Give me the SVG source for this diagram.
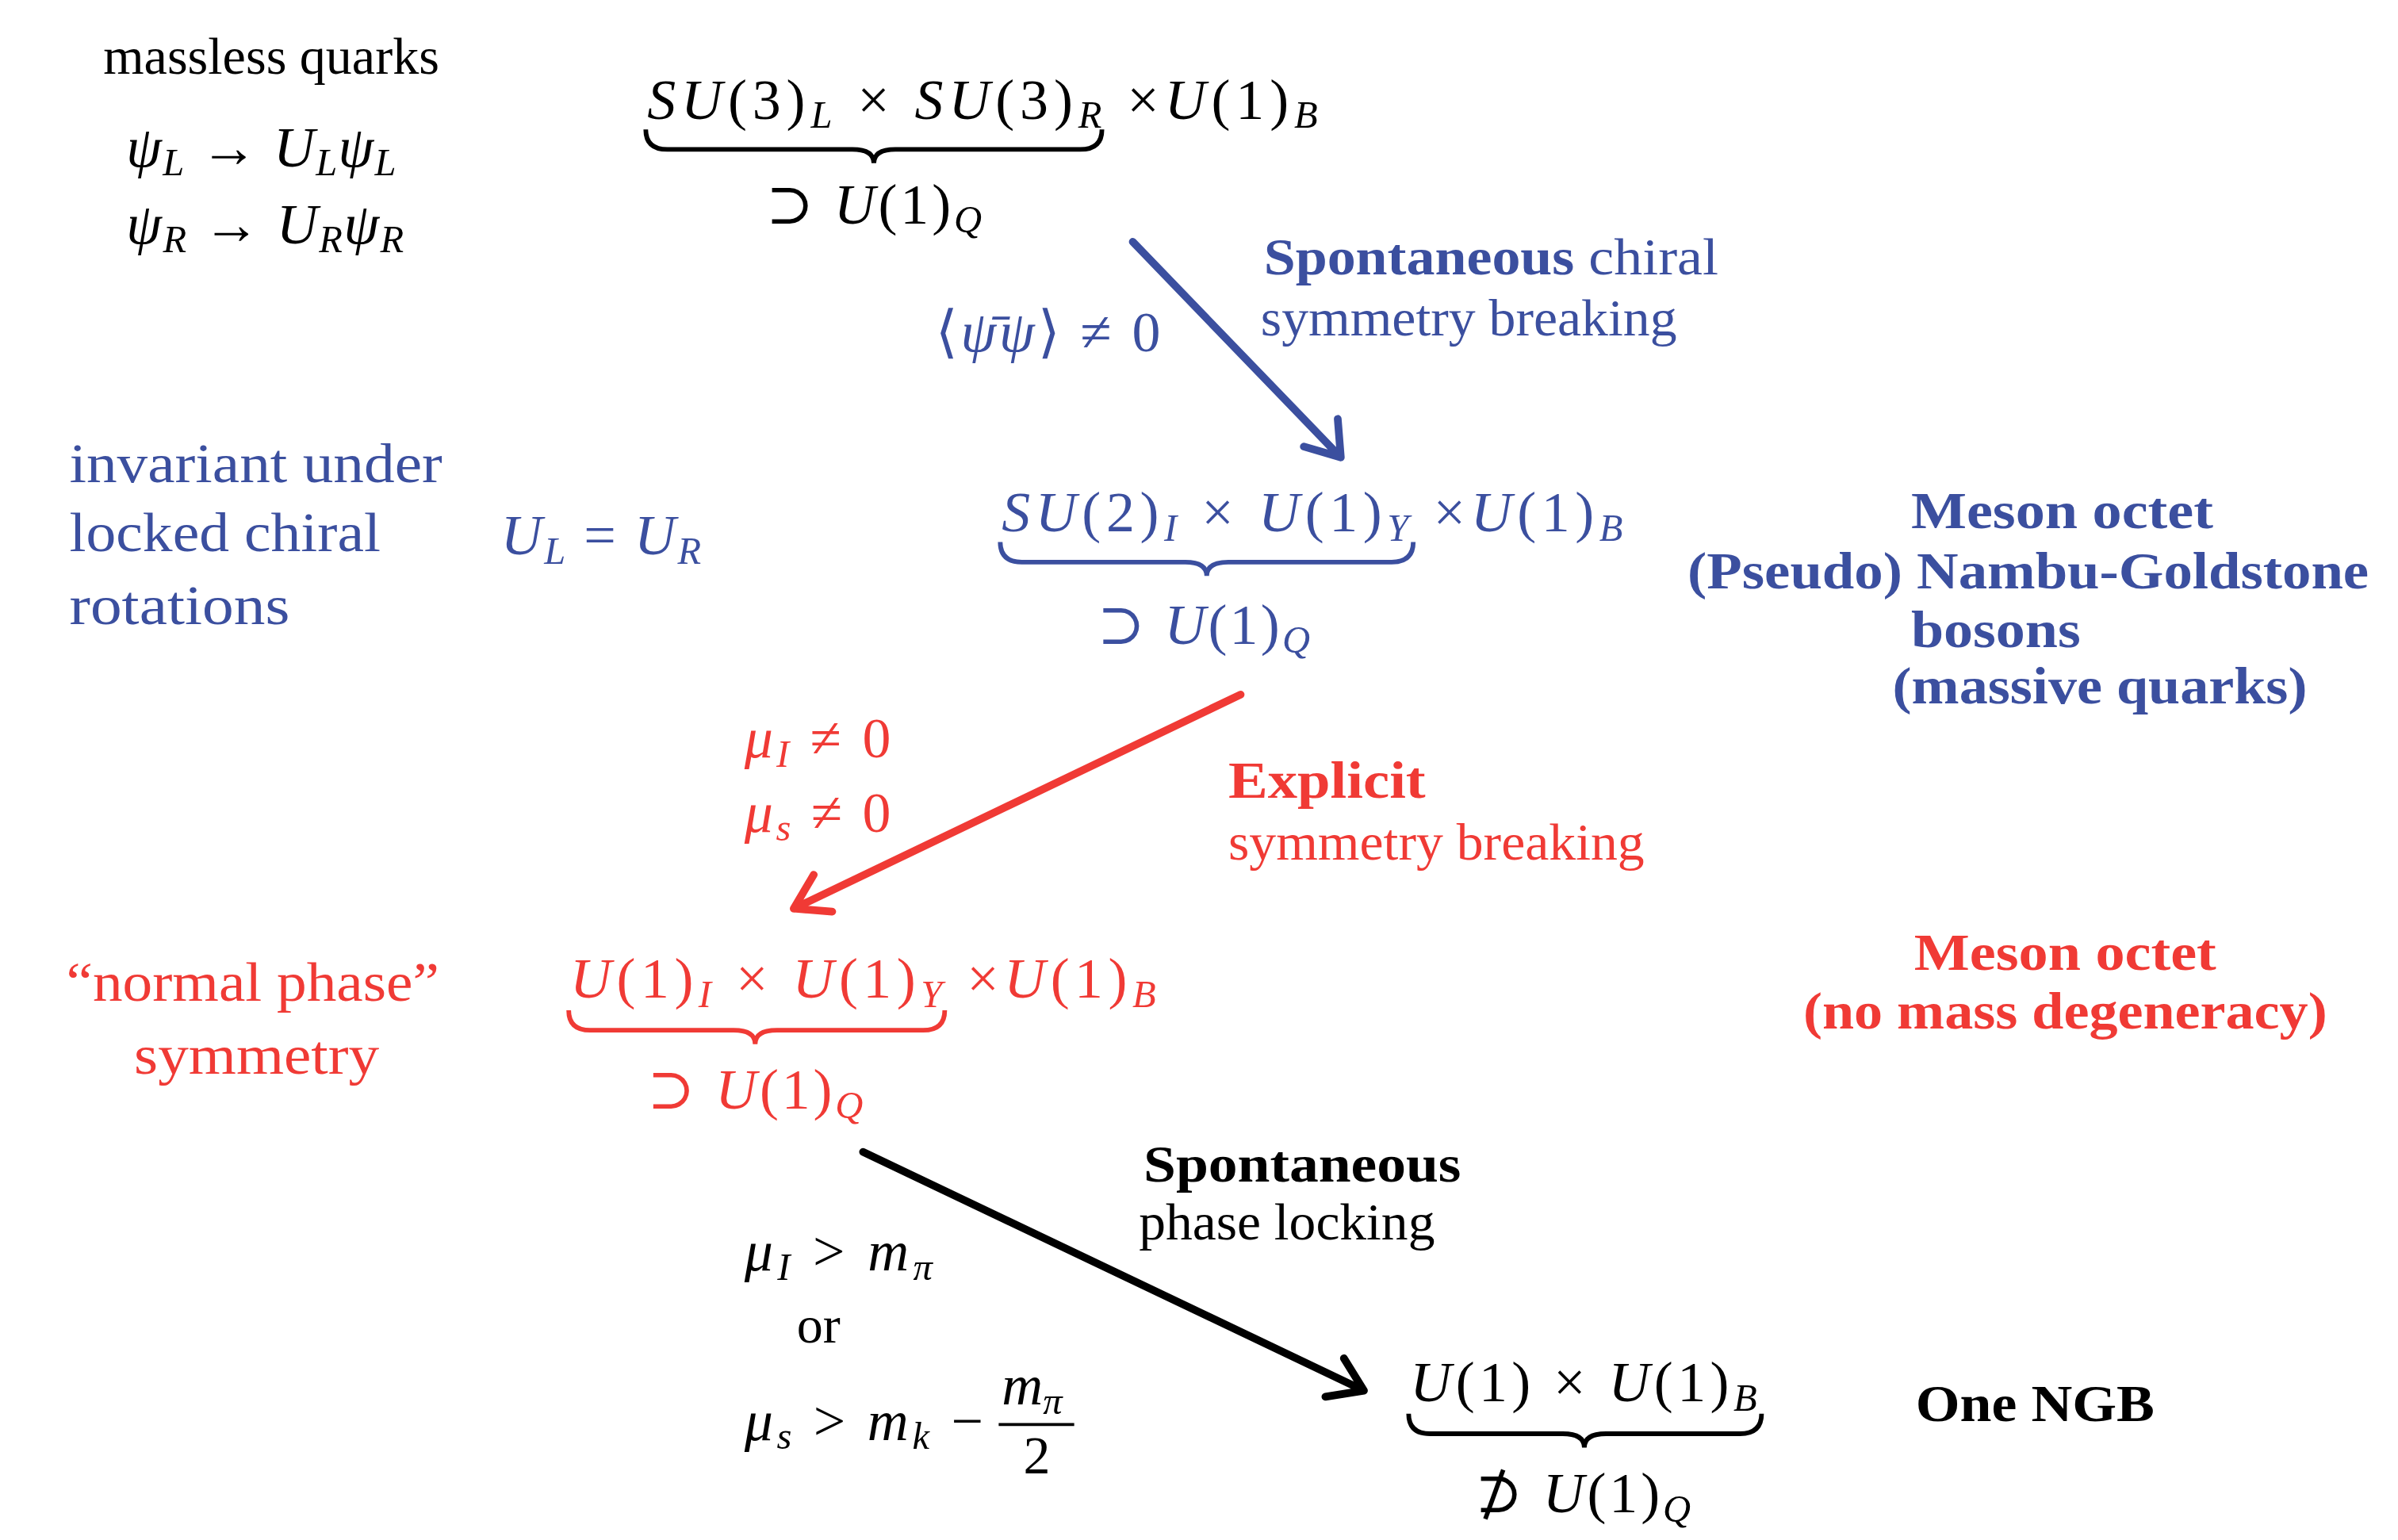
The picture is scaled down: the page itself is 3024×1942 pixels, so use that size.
<svg xmlns="http://www.w3.org/2000/svg" width="3024" height="1942" viewBox="0 0 3024 1942">
<style>
text{font-family:"Liberation Serif","DejaVu Serif",serif;font-size:34px}
.m{font-style:italic;font-size:37px}
.u{font-style:normal}
.s{font-size:25px}
.b{font-weight:bold}
.blue{fill:#3b4f9f}.red{fill:#f03a35}.blk{fill:#000}
.br{fill:none;stroke-width:3}
.ar{fill:none;stroke-width:5;stroke-linecap:round;stroke-linejoin:round}
</style>
<rect width="3024" height="1942" fill="#fff"/>
<g transform="scale(1.9435,1.942)">
<g id="quarks">
<text x="67" y="48" textLength="218" lengthAdjust="spacingAndGlyphs">massless quarks</text>
<text class="m" x="82" y="108" textLength="175">ψ<tspan class="s" dy="6">L</tspan><tspan class="u" dy="-6"> → </tspan>U<tspan class="s" dy="6">L</tspan><tspan dy="-6">ψ</tspan><tspan class="s" dy="6">L</tspan></text>
<text class="m" x="82" y="158" textLength="180">ψ<tspan class="s" dy="6">R</tspan><tspan class="u" dy="-6"> → </tspan>U<tspan class="s" dy="6">R</tspan><tspan dy="-6">ψ</tspan><tspan class="s" dy="6">R</tspan></text>
</g>
<g id="g1">
<text class="m" x="420" y="77" textLength="435">SU<tspan class="u">(3)</tspan><tspan class="s" dy="6">L</tspan><tspan class="u" dy="-6"> × </tspan>SU<tspan class="u">(3)</tspan><tspan class="s" dy="6">R</tspan><tspan class="u" dy="-6"> ×</tspan>U<tspan class="u">(1)</tspan><tspan class="s" dy="6">B</tspan></text>
<path class="br" stroke="#000" d="M419,84 q0,13 14,13 h120 q14,0 14,9 q0,-9 14,-9 h120 q14,0 14,-13"/>
<text class="m" x="497" y="145" textLength="140"><tspan class="u">⊃ </tspan>U<tspan class="u">(1)</tspan><tspan class="s" dy="6">Q</tspan></text>
</g>
<g id="inv">
<text class="blue" style="font-size:36px" x="45" y="313" textLength="242" lengthAdjust="spacingAndGlyphs">invariant under</text>
<text class="blue" style="font-size:36px" x="45" y="358" textLength="202" lengthAdjust="spacingAndGlyphs">locked chiral</text>
<text class="blue" style="font-size:36px" x="45" y="405" textLength="143" lengthAdjust="spacingAndGlyphs">rotations</text>
<text class="m blue" x="325" y="360" textLength="130">U<tspan class="s" dy="6">L</tspan><tspan class="u" dy="-6"> = </tspan>U<tspan class="s" dy="6">R</tspan></text>
</g>
<g id="g2">
<text class="m blue" x="650" y="345" textLength="403">SU<tspan class="u">(2)</tspan><tspan class="s" dy="6">I</tspan><tspan class="u" dy="-6"> × </tspan>U<tspan class="u">(1)</tspan><tspan class="s" dy="6">Y</tspan><tspan class="u" dy="-6"> ×</tspan>U<tspan class="u">(1)</tspan><tspan class="s" dy="6">B</tspan></text>
<path class="br" stroke="#3b4f9f" d="M649,352 q0,13 14,13 h106 q14,0 14,9 q0,-9 14,-9 h106 q14,0 14,-13"/>
<text class="m blue" x="712" y="418" textLength="138"><tspan class="u">⊃ </tspan>U<tspan class="u">(1)</tspan><tspan class="s" dy="6">Q</tspan></text>
</g>
<g id="meson1">
<text class="b blue" x="1240" y="343" textLength="196" lengthAdjust="spacingAndGlyphs">Meson octet</text>
<text class="b blue" x="1095" y="382" textLength="442" lengthAdjust="spacingAndGlyphs">(Pseudo) Nambu-Goldstone</text>
<text class="b blue" x="1240" y="420" textLength="110" lengthAdjust="spacingAndGlyphs">bosons</text>
<text class="b blue" x="1228" y="457" textLength="269" lengthAdjust="spacingAndGlyphs">(massive quarks)</text>
</g>
<g id="normal">
<text class="red" style="font-size:36px" x="43" y="650" textLength="242" lengthAdjust="spacingAndGlyphs">“normal phase”</text>
<text class="red" style="font-size:36px" x="87" y="697" textLength="159" lengthAdjust="spacingAndGlyphs">symmetry</text>
</g>
<g id="g3">
<text class="m red" x="370" y="648" textLength="380">U<tspan class="u">(1)</tspan><tspan class="s" dy="6">I</tspan><tspan class="u" dy="-6"> × </tspan>U<tspan class="u">(1)</tspan><tspan class="s" dy="6">Y</tspan><tspan class="u" dy="-6"> ×</tspan>U<tspan class="u">(1)</tspan><tspan class="s" dy="6">B</tspan></text>
<path class="br" stroke="#f03a35" d="M369,656 q0,13 14,13 h93 q14,0 14,9 q0,-9 14,-9 h95 q14,0 14,-13"/>
<text class="m red" x="420" y="720" textLength="140"><tspan class="u">⊃ </tspan>U<tspan class="u">(1)</tspan><tspan class="s" dy="6">Q</tspan></text>
</g>
<g id="meson2">
<text class="b red" x="1242" y="630" textLength="196" lengthAdjust="spacingAndGlyphs">Meson octet</text>
<text class="b red" x="1170" y="668" textLength="340" lengthAdjust="spacingAndGlyphs">(no mass degeneracy)</text>
</g>
<g id="g4">
<text class="m" x="915" y="910" textLength="225">U<tspan class="u">(1) × </tspan>U<tspan class="u">(1)</tspan><tspan class="s" dy="6">B</tspan></text>
<path class="br" stroke="#000" d="M914,918 q0,13 14,13 h86 q14,0 14,9 q0,-9 14,-9 h87 q14,0 14,-13"/>
<text class="m" x="957" y="982" textLength="140"><tspan class="u">⊅ </tspan>U<tspan class="u">(1)</tspan><tspan class="s" dy="6">Q</tspan></text>
<text class="b" x="1243" y="923" textLength="155" lengthAdjust="spacingAndGlyphs">One NGB</text>
</g>
<g id="connectors">
<path class="ar" stroke="#3b4f9f" d="M735,157 L870,297 M868,272 L870,297 L846,290"/>
<path class="ar" stroke="#f03a35" d="M805,451 L515,590 M528,568 L515,590 L540,592"/>
<path class="ar" stroke="#000" d="M560,748 L885,903 M872,882 L885,903 L860,907"/>
</g>
<g id="labels">
<text class="blue" x="820" y="178" textLength="295" lengthAdjust="spacingAndGlyphs"><tspan class="b">Spontaneous</tspan> chiral</text>
<text class="blue" x="818" y="218" textLength="270" lengthAdjust="spacingAndGlyphs">symmetry breaking</text>
<text class="m blue" x="607" y="228" textLength="146"><tspan class="u">⟨</tspan>ψ̄ψ<tspan class="u">⟩ ≠ 0</tspan></text>
<text class="m red" x="483" y="492" textLength="95">μ<tspan class="s" dy="6">I</tspan><tspan class="u" dy="-6"> ≠ 0</tspan></text>
<text class="m red" x="483" y="540" textLength="95">μ<tspan class="s" dy="6">s</tspan><tspan class="u" dy="-6"> ≠ 0</tspan></text>
<text class="b red" x="797" y="518" textLength="128" lengthAdjust="spacingAndGlyphs">Explicit</text>
<text class="red" x="797" y="558" textLength="270" lengthAdjust="spacingAndGlyphs">symmetry breaking</text>
<text class="b" x="742" y="767" textLength="206" lengthAdjust="spacingAndGlyphs">Spontaneous</text>
<text x="739" y="805" textLength="192" lengthAdjust="spacingAndGlyphs">phase locking</text>
<text class="m" x="483" y="825" textLength="122">μ<tspan class="s" dy="6">I</tspan><tspan class="u" dy="-6"> &gt; </tspan>m<tspan class="s" dy="6">π</tspan></text>
<text x="517" y="872">or</text>
<text class="m" x="483" y="935" textLength="155">μ<tspan class="s" dy="6">s</tspan><tspan class="u" dy="-6"> &gt; </tspan>m<tspan class="s" dy="6">k</tspan><tspan class="u" dy="-6"> −</tspan></text>
<text class="m" x="650" y="912">m<tspan class="s" dy="6">π</tspan></text>
<line x1="648" y1="925" x2="697" y2="925" stroke="#000" stroke-width="2"/>
<text class="u" style="font-size:35px" x="664" y="957">2</text>
</g>
</g>
</svg>
